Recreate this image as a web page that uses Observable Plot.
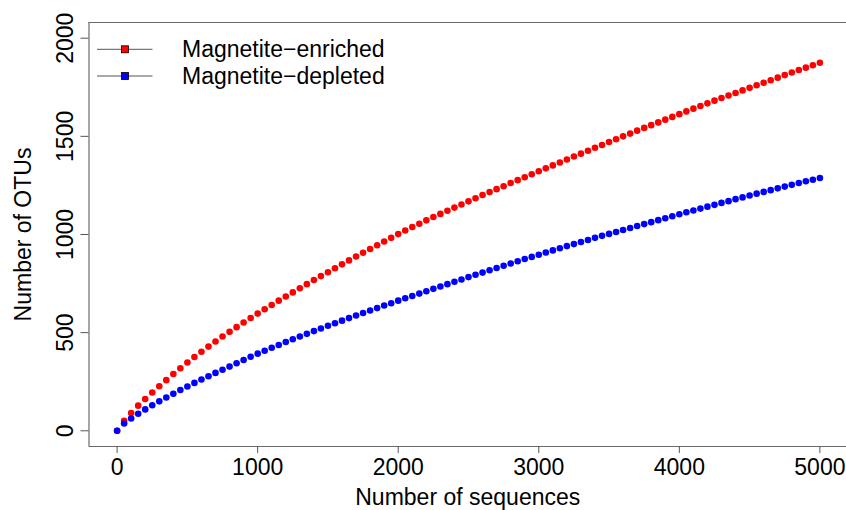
<!DOCTYPE html>
<html><head><meta charset="utf-8">
<script src="https://cdn.jsdelivr.net/npm/d3@7"></script>
<script src="https://cdn.jsdelivr.net/npm/@observablehq/plot@0.6"></script>
<style>
body{margin:0;background:#fff;}
#chart{position:relative;width:846px;height:510px;overflow:hidden;}
#legend{position:absolute;left:0;top:0;}
</style></head><body><div id="chart"></div>
<script>
// Sampling depth (number of sequences), one point every 50 sequences
const depth = d3.range(0, 5001, 50);

const enriched = [
  0, 51, 91, 128, 162, 195, 227, 258, 289, 319,
  348, 376, 403, 429, 455, 480, 504, 528, 552, 575,
  597, 619, 641, 663, 684, 705, 726, 747, 768, 788,
  808, 828, 848, 868, 888, 907, 926, 945, 964, 983,
  1002, 1020, 1038, 1055, 1072, 1089, 1105, 1121, 1137, 1153,
  1169, 1185, 1201, 1216, 1231, 1246, 1262, 1277, 1292, 1307,
  1322, 1337, 1352, 1367, 1382, 1397, 1412, 1427, 1442, 1456,
  1471, 1485, 1500, 1514, 1529, 1543, 1557, 1571, 1585, 1599,
  1613, 1627, 1641, 1655, 1668, 1682, 1695, 1708, 1721, 1734,
  1747, 1760, 1773, 1786, 1799, 1812, 1825, 1838, 1850, 1862,
  1875
];

const depleted = [
  0, 37, 63, 87, 109, 130, 150, 170, 189, 208,
  226, 244, 261, 278, 295, 311, 327, 344, 361, 377,
  393, 408, 423, 437, 452, 466, 480, 494, 508, 521,
  535, 548, 561, 574, 587, 600, 613, 625, 638, 650,
  663, 675, 687, 699, 711, 723, 735, 747, 759, 771,
  783, 795, 806, 818, 829, 841, 852, 864, 875, 886,
  897, 908, 919, 930, 941, 951, 962, 972, 983, 993,
  1003, 1013, 1023, 1033, 1043, 1053, 1063, 1073, 1083, 1093,
  1103, 1113, 1122, 1132, 1142, 1151, 1161, 1170, 1180, 1189,
  1199, 1208, 1217, 1226, 1235, 1244, 1253, 1262, 1271, 1279,
  1288
];

const seriesNames = ["Magnetite\u2212enriched", "Magnetite\u2212depleted"];
const seriesColors = ["#ff0000", "#0000ff"];
const xTicks = [0, 1000, 2000, 3000, 4000, 5000];
const yTicks = [0, 500, 1000, 1500, 2000];
const xTitle = "Number of sequences";
const yTitle = "Number of OTUs";

const font = "'Liberation Sans', Arial, Helvetica, sans-serif";
const enrichedRows = depth.map((d, i) => ({x: d, y: enriched[i]}));
const depletedRows = depth.map((d, i) => ({x: d, y: depleted[i]}));

const plot = Plot.plot({
  width: 846, height: 510,
  marginLeft: 88.5, marginRight: 0, marginTop: 22, marginBottom: 64,
  style: {fontFamily: font, fontSize: "23px", color: "#000", background: "#fff", overflow: "visible"},
  x: {domain: [-200, 5200], range: [88.5, 847.5]},
  y: {domain: [-80, 2080]},
  marks: [
    Plot.ruleY([-80, 2080], {stroke: "#6a6a6a", strokeWidth: 1.2}),
    Plot.ruleX([-200], {stroke: "#6a6a6a", strokeWidth: 1.2}),
    Plot.dot(enrichedRows, {x: "x", y: "y", r: 3.3, fill: seriesColors[0], stroke: "none"}),
    Plot.dot(depletedRows, {x: "x", y: "y", r: 3.3, fill: seriesColors[1], stroke: "none"}),
    Plot.axisX({ticks: xTicks, anchor: "bottom", tickSize: 7, tickPadding: 5, fontSize: 23, stroke: "#555", fill: "#000", label: null, tickFormat: d => String(d)}),
    Plot.axisY({ticks: yTicks, anchor: "left", tickSize: 8, tickPadding: 8, tickRotate: -90, fontSize: 23, stroke: "#555", fill: "#000", label: null, tickFormat: d => String(d)}),
    Plot.text([xTitle], {frameAnchor: "bottom", dy: 51, text: d => d, fontSize: 23, fill: "#000", textAnchor: "middle", lineAnchor: "middle"}),
    Plot.text([yTitle], {frameAnchor: "left", dx: -65.5, text: d => d, rotate: -90, fontSize: 23, fill: "#000", textAnchor: "middle", lineAnchor: "middle"})
  ]
});
document.getElementById("chart").appendChild(plot);

// Legend (R-style, no box)
const lg = d3.select("#chart").append("svg").attr("id", "legend")
  .attr("width", 420).attr("height", 100);
const rowY = [49.3, 76];
seriesNames.forEach((name, i) => {
  const g = lg.append("g").attr("transform", `translate(0,${rowY[i]})`);
  g.append("line").attr("x1", 97).attr("x2", 152.5).attr("y1", 0).attr("y2", 0)
    .attr("stroke", "#555").attr("stroke-width", 1);
  g.append("rect").attr("x", 121.5).attr("y", -3.5).attr("width", 7).attr("height", 7)
    .attr("fill", seriesColors[i]).attr("stroke", "#000").attr("stroke-width", 0.8);
  g.append("text").attr("x", 182).attr("y", 0).attr("dy", "0.35em")
    .attr("font-family", font).attr("font-size", 23).attr("fill", "#000").text(name);
});
</script>
</body></html>
